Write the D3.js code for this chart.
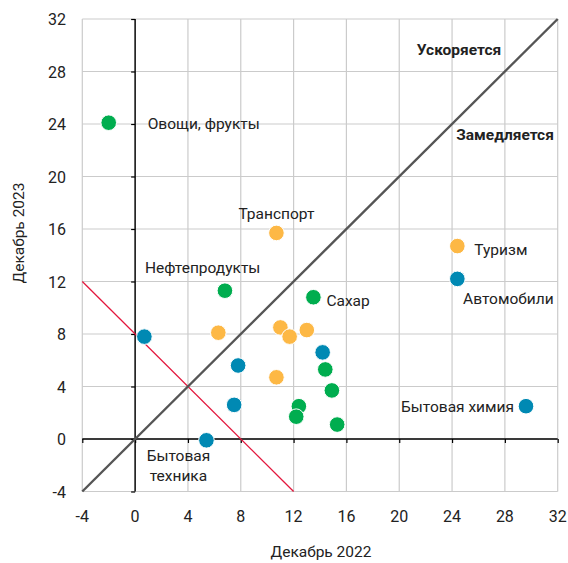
<!DOCTYPE html>
<html><head><meta charset="utf-8">
<script src="https://cdn.jsdelivr.net/npm/d3@7"></script>
<style>
html,body{margin:0;padding:0;background:#fff;}
svg{display:block;font-family:Roboto,"Noto Sans",sans-serif;}
</style></head>
<body>
<svg id="chart" width="568" height="563"></svg>
<script>
// Data
const greenX = [-2.0, 6.8, 13.5, 14.4, 14.9, 12.4, 12.2, 15.3];
const greenY = [24.1, 11.3, 10.8, 5.3, 3.7, 2.5, 1.7, 1.1];
const greenNames = ["Овощи, фрукты", "Нефтепродукты", "Сахар", "", "", "", "", ""];

const orangeX = [10.7, 24.4, 6.3, 11.0, 11.7, 13.0, 10.7];
const orangeY = [15.7, 14.7, 8.1, 8.5, 7.8, 8.3, 4.7];
const orangeNames = ["Транспорт", "Туризм", "", "", "", "", ""];

const blueX = [24.4, 0.7, 7.8, 14.2, 7.5, 5.4, 29.6];
const blueY = [12.2, 7.8, 5.6, 6.6, 2.6, -0.1, 2.5];
const blueNames = ["Автомобили", "", "", "", "", "Бытовая техника", "Бытовая химия"];

const ticks = [-4, 0, 4, 8, 12, 16, 20, 24, 28, 32];
const xTitle = "Декабрь 2022";
const yTitle = "Декабрь 2023";
const zoneLabels = ["Ускоряется", "Замедляется"];
const diagLine = [[-4, -4], [32, 32]];
const redLine = [[-4, 12], [12, -4]];

// Layout / style
const colors = {green: "#00ad4f", orange: "#fdb845", blue: "#0089b3"};
const svg = d3.select("#chart");
const x = d3.scaleLinear().domain([-4, 32]).range([82.3, 557.7]);
const y = d3.scaleLinear().domain([-4, 32]).range([491.5, 19]);

// grid
const g = svg.append("g");
g.selectAll("line.gx").data(ticks).enter().append("line")
  .attr("x1", d => x(d)).attr("x2", d => x(d))
  .attr("y1", y(-4)).attr("y2", y(32))
  .attr("stroke", "#cbcbcb").attr("stroke-width", 1.2);
g.selectAll("line.gy").data(ticks).enter().append("line")
  .attr("y1", d => y(d)).attr("y2", d => y(d))
  .attr("x1", x(-4)).attr("x2", x(32))
  .attr("stroke", "#cbcbcb").attr("stroke-width", 1.2);

// axes at zero
const xAxis = d3.axisBottom(x).tickValues(ticks).tickSize(4).tickFormat("");
const yAxis = d3.axisLeft(y).tickValues(ticks).tickSize(4).tickFormat("");
const xa = svg.append("g").attr("transform", `translate(0,${y(0)})`).call(xAxis);
const ya = svg.append("g").attr("transform", `translate(${x(0)},0)`).call(yAxis);
[xa, ya].forEach(a => {
  a.select(".domain").attr("stroke", "#000").attr("stroke-width", 1.4);
  a.selectAll(".tick line").attr("stroke", "#000").attr("stroke-width", 1.2);
});
xa.select(".domain").attr("d", `M${x(-4)},0H${x(32)}`);
ya.select(".domain").attr("d", `M0,${y(-4)}V${y(32)}`);

// tick labels
svg.append("g").selectAll("text").data(ticks).enter().append("text")
  .attr("x", d => x(d)).attr("y", 522)
  .attr("text-anchor", "middle").attr("font-size", 16).attr("fill", "#222")
  .text(d => d);
svg.append("g").selectAll("text").data(ticks).enter().append("text")
  .attr("x", 66).attr("y", d => y(d) + 6)
  .attr("text-anchor", "end").attr("font-size", 16).attr("fill", "#222")
  .text(d => d);

// titles
svg.append("text").attr("x", 321).attr("y", 557).attr("text-anchor", "middle")
  .attr("font-size", 15.5).attr("fill", "#222").text(xTitle);
svg.append("text").attr("transform", "translate(24,233) rotate(-90)")
  .attr("text-anchor", "middle").attr("font-size", 15.5).attr("fill", "#222").text(yTitle);

// lines
const line = d3.line().x(d => x(d[0])).y(d => y(d[1]));
svg.append("path").attr("d", line(redLine)).attr("stroke", "#e3173d")
  .attr("stroke-width", 1.3).attr("fill", "none");
svg.append("path").attr("d", line(diagLine)).attr("stroke", "#555")
  .attr("stroke-width", 2.4).attr("fill", "none");

// zone labels
svg.append("text").attr("x", 459).attr("y", 55).attr("text-anchor", "middle")
  .attr("font-size", 15.5).attr("font-weight", "bold").attr("fill", "#222").text(zoneLabels[0]);
svg.append("text").attr("x", 505).attr("y", 140).attr("text-anchor", "middle")
  .attr("font-size", 15.5).attr("font-weight", "bold").attr("fill", "#222").text(zoneLabels[1]);

// points
const series = [
  {xs: greenX, ys: greenY, names: greenNames, c: colors.green},
  {xs: orangeX, ys: orangeY, names: orangeNames, c: colors.orange},
  {xs: blueX, ys: blueY, names: blueNames, c: colors.blue}
];
const pts = [];
series.forEach(s => s.xs.forEach((v, i) => pts.push({x: v, y: s.ys[i], name: s.names[i], c: s.c})));
svg.append("g").selectAll("circle").data(pts).enter().append("circle")
  .attr("cx", d => x(d.x)).attr("cy", d => y(d.y)).attr("r", 7.8)
  .attr("fill", d => d.c).attr("stroke", "#fff").attr("stroke-width", 1);

// point labels (offsets are layout)
const labelLayout = {
  "Овощи, фрукты": {dx: 39, dy: 6, anchor: "start"},
  "Нефтепродукты": {dx: -80, dy: -18, anchor: "start"},
  "Сахар": {dx: 13, dy: 9, anchor: "start"},
  "Транспорт": {dx: 0, dy: -14, anchor: "middle"},
  "Туризм": {dx: 17, dy: 9, anchor: "start"},
  "Автомобили": {dx: 51, dy: 25, anchor: "middle"},
  "Бытовая химия": {dx: -12, dy: 6, anchor: "end"},
  "Бытовая техника": {dx: -28, dy: 21, anchor: "middle", wrap: true}
};
const lab = svg.append("g").attr("font-size", 15.5).attr("fill", "#222");
pts.filter(d => d.name).forEach(d => {
  const L = labelLayout[d.name];
  const t = lab.append("text").attr("text-anchor", L.anchor);
  if (L.wrap) {
    d.name.split(" ").forEach((w, i) => {
      t.append("tspan").attr("x", x(d.x) + L.dx).attr("y", y(d.y) + L.dy + i * 19.5).text(w);
    });
  } else {
    t.attr("x", x(d.x) + L.dx).attr("y", y(d.y) + L.dy).text(d.name);
  }
});
</script>
</body></html>
